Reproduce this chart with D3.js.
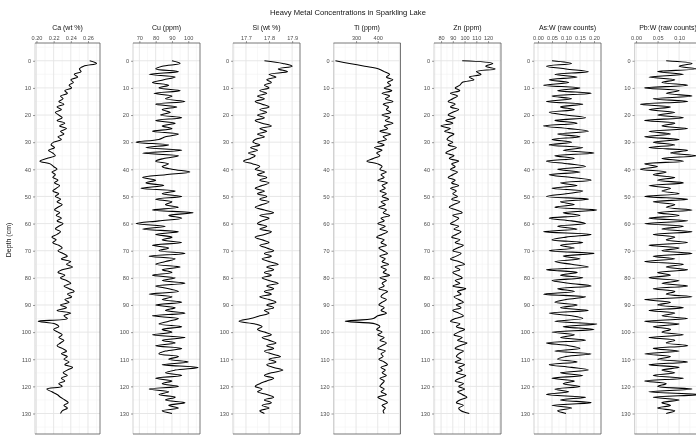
<!DOCTYPE html>
<html><head><meta charset="utf-8">
<script src="https://cdn.jsdelivr.net/npm/d3@7"></script>
<style>body{margin:0;background:#fff}svg{display:block;will-change:transform}text{font-family:"Liberation Sans",Arial,sans-serif}</style>
</head><body><svg id="c" width="696" height="437"></svg>
<script>
const depth = d3.range(0, 131, 1);
const ca = [0.262,0.270,0.255,0.250,0.252,0.244,0.248,0.240,0.243,0.238,
0.241,0.233,0.236,0.228,0.231,0.226,0.232,0.224,0.229,0.222,
0.226,0.230,0.224,0.233,0.227,0.235,0.228,0.232,0.225,0.229,
0.220,0.217,0.221,0.214,0.219,0.222,0.212,0.204,0.216,0.220,
0.224,0.218,0.222,0.219,0.225,0.221,0.227,0.223,0.219,0.226,
0.222,0.228,0.224,0.230,0.225,0.221,0.227,0.223,0.229,0.224,
0.231,0.226,0.222,0.228,0.224,0.218,0.223,0.219,0.226,0.230,
0.225,0.231,0.236,0.229,0.240,0.235,0.242,0.230,0.225,0.233,
0.228,0.235,0.240,0.232,0.238,0.244,0.236,0.241,0.233,0.238,
0.228,0.235,0.224,0.240,0.232,0.236,0.202,0.222,0.226,0.220,
0.225,0.230,0.226,0.232,0.228,0.224,0.230,0.235,0.229,0.236,
0.232,0.238,0.233,0.242,0.236,0.231,0.236,0.229,0.233,0.226,
0.230,0.212,0.218,0.224,0.228,0.233,0.237,0.232,0.236,0.230,0.228];
const cu = [90,95,84,80,94,76,92,85,78,88,
82,95,79,90,86,98,80,93,84,89,
83,96,80,92,84,90,78,94,86,82,
68,88,74,96,72,94,85,80,88,84,
90,101,86,72,80,74,85,71,92,84,
96,80,90,86,94,78,103,88,96,82,
68,86,72,94,80,90,84,96,78,88,
82,98,76,92,86,80,95,84,90,78,
92,84,98,80,88,94,76,90,84,96,
80,92,86,98,78,94,88,82,96,84,
90,78,98,84,92,80,96,86,82,94,
88,100,84,106,92,86,96,80,90,84,
94,76,88,82,92,86,98,88,94,84,90];
const si = [17.78,17.86,17.90,17.84,17.88,17.80,17.83,17.79,17.81,17.78,
17.80,17.76,17.79,17.75,17.78,17.74,17.77,17.80,17.76,17.79,
17.75,17.78,17.74,17.77,17.81,17.76,17.79,17.75,17.78,17.74,
17.73,17.76,17.72,17.75,17.71,17.74,17.72,17.69,17.73,17.76,
17.74,17.78,17.75,17.79,17.76,17.80,17.77,17.74,17.78,17.75,
17.79,17.76,17.80,17.77,17.74,17.78,17.82,17.76,17.80,17.77,
17.75,17.79,17.76,17.81,17.78,17.74,17.77,17.80,17.76,17.79,
17.82,17.78,17.81,17.77,17.80,17.84,17.79,17.82,17.78,17.81,
17.77,17.80,17.84,17.79,17.82,17.78,17.81,17.76,17.80,17.83,
17.79,17.82,17.78,17.80,17.76,17.72,17.67,17.74,17.77,17.75,
17.78,17.81,17.77,17.80,17.83,17.79,17.82,17.78,17.81,17.85,
17.80,17.83,17.79,17.82,17.86,17.81,17.78,17.82,17.79,17.76,
17.74,17.77,17.75,17.79,17.82,17.78,17.81,17.77,17.80,17.76,17.78];
const ti = [205,270,340,405,430,455,440,470,445,460,
430,465,420,455,435,470,425,450,440,460,
420,455,435,470,430,445,410,460,425,440,
400,430,385,420,395,410,380,350,400,420,
410,440,415,430,400,445,420,435,410,440,
420,450,415,435,405,440,425,455,415,430,
400,435,410,445,420,395,430,415,440,405,
425,445,410,435,420,450,415,440,425,455,
410,440,420,430,405,445,425,415,440,420,
405,430,415,440,400,380,250,390,410,395,
420,400,430,410,440,420,400,435,415,425,
405,430,445,415,435,420,440,410,430,420,
410,430,415,440,400,425,445,420,435,425,430];
const zn = [98,124,118,126,110,114,104,108,98,96,
92,96,88,94,90,86,92,88,95,90,
86,92,84,90,80,88,83,91,87,85,
90,86,93,88,84,91,87,95,89,92,
88,94,90,86,92,89,95,88,93,90,
94,89,96,91,87,93,98,90,95,92,
88,95,91,97,93,89,96,92,99,94,
90,97,93,88,95,100,92,96,90,94,
98,92,96,90,101,94,97,91,95,99,
93,97,90,95,99,92,88,96,93,100,
95,91,98,94,102,96,92,99,95,93,
97,92,100,95,98,93,101,96,92,99,
95,100,94,98,102,96,93,99,95,97,104];
const asw = [0.05,0.12,0.03,0.10,0.18,0.06,0.14,0.04,0.11,0.02,
0.15,0.07,0.19,0.05,0.12,0.03,0.16,0.08,0.13,0.04,
0.10,0.17,0.06,0.14,0.02,0.11,0.18,0.07,0.15,0.05,
0.12,0.04,0.16,0.09,0.20,0.06,0.13,0.03,0.11,0.17,
0.07,0.15,0.04,0.12,0.19,0.08,0.14,0.05,0.16,0.10,
0.03,0.18,0.08,0.13,0.06,0.21,0.09,0.15,0.04,0.12,
0.17,0.07,0.14,0.02,0.19,0.10,0.05,0.16,0.08,0.13,
0.04,0.20,0.09,0.15,0.06,0.12,0.18,0.03,0.14,0.08,
0.16,0.05,0.11,0.19,0.07,0.13,0.02,0.17,0.10,0.06,
0.14,0.08,0.18,0.04,0.12,0.16,0.06,0.21,0.09,0.20,
0.05,0.13,0.08,0.17,0.03,0.11,0.15,0.06,0.19,0.10,
0.07,0.14,0.04,0.12,0.18,0.08,0.16,0.05,0.13,0.09,
0.15,0.06,0.11,0.03,0.17,0.08,0.19,0.05,0.12,0.07,0.10];
const pbw = [0.07,0.13,0.10,0.14,0.05,0.11,0.03,0.09,0.06,0.12,
0.02,0.10,0.07,0.13,0.04,0.12,0.01,0.08,0.03,0.09,
0.05,0.11,0.02,0.09,0.06,0.12,0.03,0.08,0.02,0.10,
0.04,0.09,0.03,0.12,0.08,0.14,0.06,0.11,0.02,0.05,
0.01,0.07,0.04,0.09,0.05,0.11,0.03,0.08,0.06,0.10,
0.02,0.12,0.04,0.09,0.07,0.13,0.05,0.10,0.03,0.12,
0.02,0.11,0.06,0.13,0.04,0.09,0.07,0.12,0.03,0.10,
0.06,0.13,0.04,0.09,0.02,0.11,0.07,0.12,0.05,0.08,
0.03,0.10,0.06,0.12,0.04,0.09,0.07,0.13,0.02,0.08,
0.05,0.11,0.03,0.09,0.06,0.12,0.02,0.10,0.04,0.08,
0.06,0.11,0.03,0.09,0.07,0.12,0.04,0.10,0.02,0.08,
0.05,0.12,0.03,0.10,0.06,0.09,0.04,0.11,0.02,0.07,
0.05,0.13,0.03,0.15,0.04,0.10,0.06,0.08,0.05,0.09,0.07];

const titles = ["Ca (wt %)","Cu (ppm)","Si (wt %)","Ti (ppm)","Zn (ppm)","As:W (raw counts)","Pb:W (raw counts)"];
const series = [ca, cu, si, ti, zn, asw, pbw];
const xDomains = [[0.1983,0.274],[66.1,107.2],[17.644,17.934],[196,505],[74,131],[-0.0143,0.225],[-0.0036,0.152]];
const xTicks = [[0.20,0.22,0.24,0.26],[70,80,90,100],[17.7,17.8,17.9],[300,400],[80,90,100,110,120],[0.00,0.05,0.10,0.15,0.20],[0.00,0.05,0.10]];
const xFormats = [".2f",".0f",".1f",".0f",".0f",".2f",".2f"];
const depthTicks = d3.range(0, 131, 10);
const chartTitle = "Heavy Metal Concentrations in Sparkling Lake";
const yTitle = "Depth (cm)";

const svg = d3.select("#c");
const pTop = 43, pBottom = 434;
const panelLeft = [35, 133, 233, 333.5, 434, 534, 634.5];
const panelWidth = [65, 67, 67, 67, 67, 67, 67];
const y = d3.scaleLinear().domain([-6.55, 137.55]).range([pTop, pBottom]);

svg.append("rect").attr("width", 696).attr("height", 437).attr("fill", "#fff");
svg.append("text").attr("x", 348).attr("y", 15).attr("text-anchor","middle")
  .attr("font-size", 7.6).attr("fill","#111").text(chartTitle);

series.forEach((vals, i) => {
  const L = panelLeft[i], W = panelWidth[i];
  const x = d3.scaleLinear().domain(xDomains[i]).range([L, L+W]);
  const g = svg.append("g");
  const tks = xTicks[i];
  const step = tks[1]-tks[0];
  const inDom = v => v > x.domain()[0] && v < x.domain()[1];
  for (let k = -3; k < 12; k++) {
    const mv = tks[0] + step*(k + 0.5);
    if (inDom(mv))
      g.append("line").attr("x1", x(mv)).attr("x2", x(mv)).attr("y1", pTop).attr("y2", pBottom).attr("stroke","#f3f3f3").attr("stroke-width",0.6);
  }
  d3.range(5, 140, 10).concat([-5]).forEach(d => {
    g.append("line").attr("x1", L).attr("x2", L+W).attr("y1", y(d)).attr("y2", y(d)).attr("stroke","#f3f3f3").attr("stroke-width",0.6);
  });
  for (let k = -3; k < 12; k++) {
    const mv = tks[0] + step*k;
    if (inDom(mv))
      g.append("line").attr("x1", x(mv)).attr("x2", x(mv)).attr("y1", pTop).attr("y2", pBottom).attr("stroke","#e4e4e4").attr("stroke-width",0.9);
  }
  depthTicks.forEach(d => {
    g.append("line").attr("x1", L).attr("x2", L+W).attr("y1", y(d)).attr("y2", y(d)).attr("stroke","#e4e4e4").attr("stroke-width",0.9);
  });
  const line = d3.line().x(d => x(d[1])).y(d => y(d[0])).curve(d3.curveCatmullRom.alpha(0.5));
  g.append("path").datum(depth.map((d, k) => [d, vals[k]])).attr("d", line)
    .attr("fill","none").attr("stroke","#000").attr("stroke-width",1.05);
  g.append("line").attr("x1", L).attr("x2", L).attr("y1", pTop).attr("y2", pBottom).attr("stroke","#c8c8c8").attr("stroke-width",0.8);
  g.append("line").attr("x1", L+W).attr("x2", L+W).attr("y1", pTop).attr("y2", pBottom).attr("stroke","#555").attr("stroke-width",0.8);
  g.append("line").attr("x1", L).attr("x2", L+W).attr("y1", pTop).attr("y2", pTop).attr("stroke","#555").attr("stroke-width",0.8);
  g.append("line").attr("x1", L).attr("x2", L+W).attr("y1", pBottom).attr("y2", pBottom).attr("stroke","#555").attr("stroke-width",0.8);
  const ax = svg.append("g").attr("transform", `translate(0,${pTop})`)
    .call(d3.axisTop(x).tickValues(tks.filter(inDom)).tickFormat(d3.format(xFormats[i])).tickSize(2).tickPadding(1.5));
  ax.select(".domain").remove();
  ax.selectAll("line").attr("stroke","#555").attr("stroke-width",0.6);
  ax.selectAll("text").attr("font-size",5.6).attr("fill","#4d4d4d").attr("font-family","Liberation Sans, Arial, sans-serif");
  const ay = svg.append("g").attr("transform", `translate(${L},0)`)
    .call(d3.axisLeft(y).tickValues(depthTicks).tickSize(2).tickPadding(2));
  ay.select(".domain").remove();
  ay.selectAll("line").attr("stroke","#555").attr("stroke-width",0.6);
  ay.selectAll("text").attr("font-size",5.6).attr("fill","#4d4d4d").attr("font-family","Liberation Sans, Arial, sans-serif");
  svg.append("text").attr("x", L+W/2).attr("y", 29.5).attr("text-anchor","middle")
    .attr("font-size",7).attr("fill","#111").text(titles[i]);
});

svg.append("text").attr("transform","translate(11,240) rotate(-90)").attr("text-anchor","middle")
  .attr("font-size",7).attr("fill","#111").text(yTitle);
</script></body></html>
